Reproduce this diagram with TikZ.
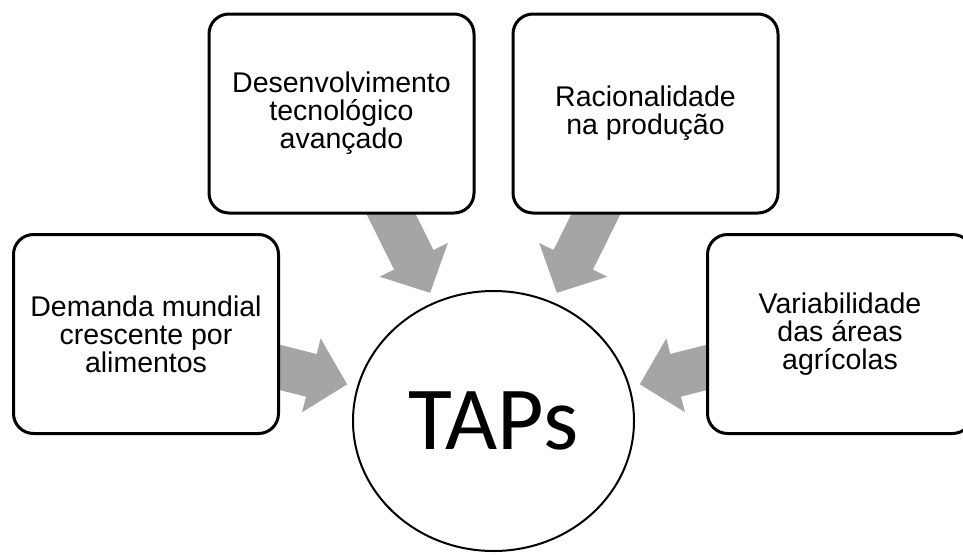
\documentclass[tikz,border=0pt]{standalone}
\usepackage{fontspec}
\setmainfont{Liberation Sans}
\newfontfamily\tapsfont{Carlito}
\usepackage{tikz}
\usetikzlibrary{arrows.meta,positioning,shapes.geometric,backgrounds}
\definecolor{arrowgray}{RGB}{165,165,165}
\tikzset{
  factor/.style={draw, line width=3pt, rounded corners=20pt, fill=white, minimum width=265pt, minimum height=199pt, align=center, inner sep=0pt, font=\fontsize{28.5}{28}\selectfont},
  core/.style={draw, line width=2pt, ellipse, fill=white, minimum width=281pt, minimum height=260pt, inner sep=0pt, font=\tapsfont\fontsize{90}{90}\selectfont},
  push/.style={arrowgray, line width=44pt, -{Triangle[width=74pt, length=37pt]}, shorten <=-12pt, shorten >=10pt},
}

\begin{document}
\begin{tikzpicture}[x=1pt, y=-1pt]
    \useasboundingbox (0,0) rectangle (963,554);
    % the four drivers around the centre
    \node[factor] (demanda) at (146,334) {Demanda mundial\\crescente por\\alimentos};
    \node[factor] (tecno) at (341.5,113.5) {Desenvolvimento\\tecnológico\\avançado};
    \node[factor] (racio) at (645.5,113.5) {Racionalidade\\na produção};
    \node[factor] (variab) at (840,334) {Variabilidade\\das áreas\\agrícolas};
    \node[core] (taps) at (493.5,421) {TAPs};

    % block arrows go under the boxes
    \begin{scope}[on background layer]
    \draw[push] (demanda) -- (taps);
    \draw[push] (tecno) -- (taps);
    \draw[push] (racio) -- (taps);
    \draw[push] (variab) -- (taps);
    \end{scope}
\end{tikzpicture}
\end{document}
